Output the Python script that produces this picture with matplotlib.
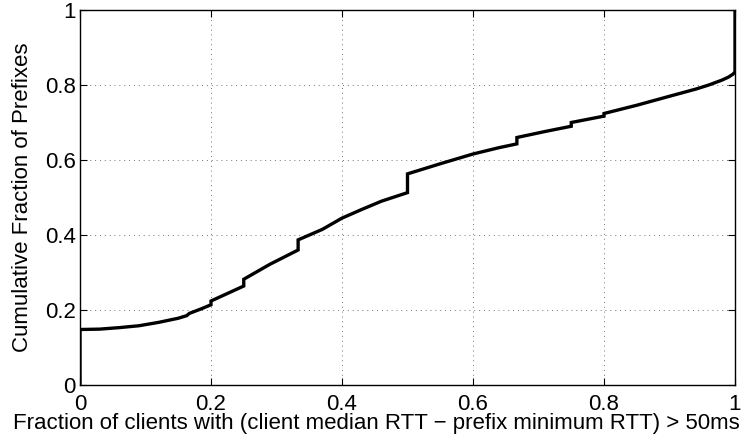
import matplotlib
matplotlib.use('Agg')
import matplotlib.pyplot as plt

# CDF of the per-prefix fraction of clients with inflated RTT
# (repeated x values are the CDF jumps)
frac_x = [0.0, 0.0, 0.03, 0.06, 0.09, 0.12, 0.15, 0.163, 0.167, 0.185, 0.2, 0.2,
          0.225, 0.25, 0.25, 0.29, 0.333, 0.333, 0.37, 0.40, 0.43, 0.46,
          0.5, 0.5, 0.55, 0.60, 0.64, 0.667, 0.667, 0.71, 0.75, 0.75,
          0.80, 0.80, 0.85, 0.90, 0.94, 0.96, 0.98, 0.99, 0.997, 1.0, 1.0]
cdf_y = [0.0, 0.148, 0.149, 0.153, 0.158, 0.167, 0.178, 0.185, 0.191, 0.203, 0.214, 0.224,
         0.244, 0.264, 0.282, 0.322, 0.360, 0.387, 0.415, 0.445, 0.468, 0.490,
         0.513, 0.563, 0.590, 0.616, 0.633, 0.643, 0.660, 0.676, 0.690, 0.700,
         0.717, 0.724, 0.746, 0.770, 0.789, 0.800, 0.813, 0.821, 0.829, 0.835, 1.0]

ticks = [0, 0.2, 0.4, 0.6, 0.8, 1]
tick_labels = ['0', '0.2', '0.4', '0.6', '0.8', '1']

plt.rcParams['font.family'] = ['Liberation Sans', 'DejaVu Sans']
fs = 16

fig = plt.figure(figsize=(7.53, 4.37), dpi=100)
ax = fig.add_axes([80/753, 1 - 385/437, 655/753, 375/437])

ax.plot(frac_x, cdf_y, color='black', linewidth=2.4, solid_joinstyle='miter')

ax.set_xlim(0, 1)
ax.set_ylim(0, 1)
ax.set_xticks(ticks)
ax.set_xticklabels(tick_labels)
ax.set_yticks(ticks)
ax.set_yticklabels(tick_labels)
ax.tick_params(direction='in', length=5, width=0.8, top=True, right=True,
               labelsize=fs)
ax.tick_params(axis='x', pad=6.5)
ax.tick_params(axis='y', pad=3)
ax.grid(True, linestyle=(0, (1, 4)), color='0.45', linewidth=0.7)
for s in ax.spines.values():
    s.set_linewidth(1.0)

# MATLAB-style labels: x label centred on the figure, tucked under the ticks
ax.set_xlabel('Fraction of clients with (client median RTT \u2212 prefix minimum RTT) > 50ms',
              fontsize=fs, va='baseline')
ax.xaxis.set_label_coords((376.5 - 80) / 655, (385 - 429) / 375)
ax.set_ylabel('Cumulative Fraction of Prefixes', fontsize=fs)
ax.yaxis.set_label_coords((33 - 80) / 655, 0.5)

fig.savefig('out.png', dpi=100)
